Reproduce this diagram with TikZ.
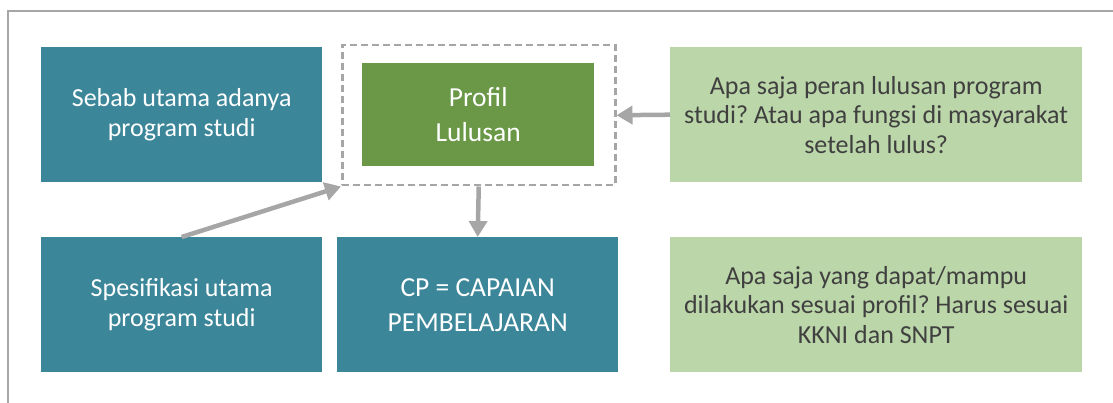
\documentclass[tikz,border=0pt]{standalone}
\usepackage{fontspec}
\setmainfont{Carlito}
\frenchspacing
\usetikzlibrary{arrows.meta}
\definecolor{boxteal}{RGB}{59,134,153}
\definecolor{boxgreen}{RGB}{106,152,71}
\definecolor{boxlight}{RGB}{187,214,168}
\definecolor{linegray}{RGB}{166,166,166}
\definecolor{textdark}{RGB}{64,64,64}
\begin{document}
\begin{tikzpicture}[x=1pt,y=-1pt,
  box/.style={rectangle, inner sep=0pt, anchor=north west, align=center,
    minimum width=281pt, minimum height=135pt,
    font=\fontsize{26}{29.5}\selectfont},
  bigtext/.style={font=\fontsize{27.5}{35}\selectfont},
  tealbox/.style={box, fill=boxteal, text=white},
  lightbox/.style={box, fill=boxlight, text=textdark, minimum width=412pt},
  conn/.style={draw=linegray, line width=4.5pt,
    -{Triangle[length=16pt,width=18pt]}},
  outline/.style={draw=linegray, line width=2.5pt}]
\useasboundingbox (0,0) rectangle (1113,403);
% open frame along the top and left edges
\draw[outline] (8,403) -- (8,11) -- (1113,11);

% left column
\node[tealbox] (cause) at (41,47) {Sebab utama adanya\\program studi};
\node[tealbox] (spec) at (41,237) {Spesifikasi utama\\program studi};

% middle column
\node[box, draw=linegray, line width=2.5pt, dash pattern=on 7pt off 4pt,
  minimum width=273pt, minimum height=140pt] (frame) at (341,44) {};
\node[box, bigtext, fill=boxgreen, text=white, minimum width=232pt,
  minimum height=103pt] (profil) at (362,63) {Profil\\Lulusan};
\node[tealbox, bigtext] (cp) at (337,237) {CP = CAPAIAN\\PEMBELAJARAN};

% right column
\node[lightbox] (role) at (670,47)
  {Apa saja peran lulusan program\\studi? Atau apa fungsi di masyarakat\\setelah lulus?};
\node[lightbox] (skill) at (670,237)
  {Apa saja yang dapat/mampu\\dilakukan sesuai profil? Harus sesuai\\KKNI dan SNPT};

% connectors
\draw[conn] (role.west) -- (frame.east);
\draw[conn] (frame.south) -- (cp.north);
\draw[conn] (spec.north) -- (frame.south west);
\end{tikzpicture}
\end{document}
